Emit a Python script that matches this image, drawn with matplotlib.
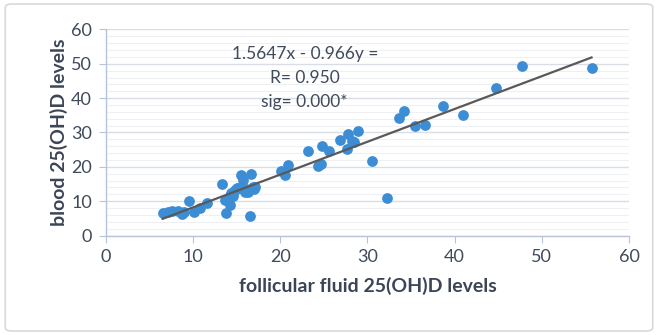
import matplotlib.pyplot as plt
import numpy as np
from matplotlib.patches import FancyBboxPatch
from matplotlib.ticker import MultipleLocator

# follicular fluid vs blood 25(OH)D
ff_levels = [6.5, 7.1, 7.6, 8.3, 8.7, 9.0, 9.5, 10.1, 10.8, 11.6,
             13.3, 13.7, 13.8, 14.1, 14.2, 14.4, 14.6, 14.8, 15.0, 15.3,
             15.5, 15.7, 15.9, 16.1, 16.3, 16.5, 16.6, 16.9, 17.0, 17.1,
             20.1, 20.5, 20.9, 23.2, 24.3, 24.7, 24.8, 25.6, 26.8, 27.6,
             27.8, 28.2, 28.5, 28.9, 30.5, 32.2, 33.6, 34.2, 35.5, 36.6,
             38.7, 41.0, 44.7, 47.7, 55.7]
blood_levels = [6.5, 6.7, 7.0, 7.2, 6.3, 6.8, 10.1, 6.9, 7.9, 9.5,
                15.0, 10.4, 6.6, 11.3, 8.9, 12.3, 11.5, 13.2, 13.8, 13.7,
                17.5, 16.2, 12.8, 13.4, 12.7, 5.6, 17.9, 14.2, 13.4, 14.0,
                18.9, 17.5, 20.5, 24.7, 20.1, 20.8, 26.0, 24.7, 27.9, 25.2,
                29.6, 27.4, 27.3, 30.4, 21.6, 11.0, 34.1, 36.2, 31.9, 32.1,
                37.7, 35.1, 42.9, 49.4, 48.8]

x_ticks = [0, 10, 20, 30, 40, 50, 60]
y_ticks = [0, 10, 20, 30, 40, 50, 60]

note_lines = ['1.5647x - 0.966y =', 'R= 0.950', 'sig= 0.000*']

plt.rcParams['font.family'] = ['Lato', 'DejaVu Sans']

fig = plt.figure(figsize=(6.58, 3.35), dpi=100)
ax = fig.add_axes([0.161, 0.297, 0.795, 0.615])

# outer frame round the whole chart
frame = FancyBboxPatch((0.008, 0.012), 0.984, 0.976, boxstyle='round,pad=0,rounding_size=0.01',
                       transform=fig.transFigure, fill=False, edgecolor='#D9D9D9', linewidth=1.2)
fig.patches.append(frame)

ax.scatter(ff_levels, blood_levels, s=60, color='#3C8DD3', zorder=3, linewidths=0)

# linear trend line
slope, icpt = np.polyfit(ff_levels, blood_levels, 1)
xs = np.array([min(ff_levels), max(ff_levels)])
ax.plot(xs, slope * xs + icpt, color='#595959', linewidth=1.6, zorder=4)

ax.set_xlim(0, 60)
ax.set_ylim(0, 60)
ax.set_xticks(x_ticks)
ax.set_yticks(y_ticks)
ax.yaxis.set_minor_locator(MultipleLocator(2))

ax.grid(axis='y', which='major', color='#D9DDE6', linewidth=1.0)
ax.grid(axis='y', which='minor', color='#EEF0F4', linewidth=0.8)
ax.set_axisbelow(True)

for s in ['top', 'right']:
    ax.spines[s].set_visible(False)
for s in ['left', 'bottom']:
    ax.spines[s].set_color('#B7C3D6')
    ax.spines[s].set_linewidth(1.0)

ax.tick_params(which='major', length=5, color='#B7C3D6', labelsize=13, labelcolor='#404A5A', pad=5)
ax.tick_params(which='minor', length=0)

ax.set_xlabel('follicular fluid 25(OH)D levels', fontsize=14, fontweight='bold', color='#3B4556', labelpad=8)
ax.set_ylabel('blood 25(OH)D levels', fontsize=14, fontweight='bold', color='#3B4556', labelpad=2)

for i, line in enumerate(note_lines):
    ax.text(22.8, 53.0 - i * 7.1, line, ha='center', va='center', fontsize=12.5, color='#404A5A')

fig.savefig('out.png', dpi=100)
